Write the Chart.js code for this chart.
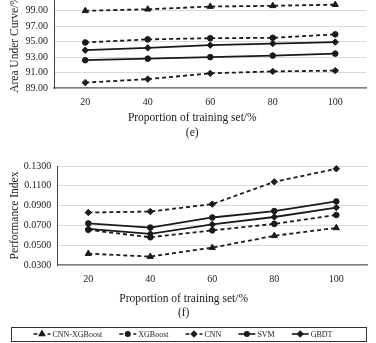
<!DOCTYPE html>
<html><head><meta charset="utf-8">
<script src="https://cdn.jsdelivr.net/npm/chart.js@4/dist/chart.umd.min.js"></script>
<style>
html,body{margin:0;padding:0;background:#fff;}
#wrap{width:376px;height:343px;position:relative;overflow:hidden;}
.c{position:absolute;left:0;width:376px;}
</style></head><body>
<div id="wrap">
<div class="c" style="top:0;height:142px"><canvas id="c1"></canvas></div>
<div class="c" style="top:142px;height:201px"><canvas id="c2"></canvas></div>
</div>
<script>
// ---- data ----
const categories = ['20', '40', '60', '80', '100'];
const seriesNames = ['CNN-XGBoost', 'XGBoost', 'CNN', 'SVM', 'GBDT'];

const aucCnnXgb = [99.00, 99.20, 99.55, 99.65, 99.80];
const aucXgb    = [94.90, 95.30, 95.45, 95.50, 95.95];
const aucCnn    = [89.70, 90.15, 90.90, 91.15, 91.25];
const aucSvm    = [92.60, 92.80, 93.00, 93.20, 93.45];
const aucGbdt   = [93.90, 94.20, 94.55, 94.75, 94.95];

const piCnnXgb = [0.0415, 0.0385, 0.0475, 0.0595, 0.0675];
const piXgb    = [0.0655, 0.0580, 0.0650, 0.0715, 0.0805];
const piCnn    = [0.0830, 0.0840, 0.0915, 0.1140, 0.1272];
const piSvm    = [0.0720, 0.0678, 0.0780, 0.0845, 0.0942];
const piGbdt   = [0.0665, 0.0615, 0.0710, 0.0785, 0.0880];

const aucTicks = [89, 91, 93, 95, 97, 99];
const aucTickLabels = ['89.00', '91.00', '93.00', '95.00', '97.00', '99.00'];
const piTicks = [0.03, 0.05, 0.07, 0.09, 0.11, 0.13];
const piTickLabels = ['0.0300', '0.0500', '0.0700', '0.0900', '0.1100', '0.1300'];

// ---- styles ----
const FONT = "'Liberation Serif', 'Times New Roman', serif";
const INK = '#1a1a1a';
const seriesStyles = [
  {dash: [4, 3], point: 'triangle', r: 3.6},
  {dash: [4, 3], point: 'circle', r: 2.8},
  {dash: [4, 3], point: 'rectRot', r: 3.2},
  {dash: [], point: 'circle', r: 2.8},
  {dash: [], point: 'rectRot', r: 3.2}
];

function makeDatasets(arrs) {
  return arrs.map((d, i) => ({
    label: seriesNames[i],
    data: d,
    borderColor: INK,
    backgroundColor: INK,
    borderWidth: 1.8,
    borderDash: seriesStyles[i].dash,
    pointStyle: seriesStyles[i].point,
    pointRadius: seriesStyles[i].r,
    pointBackgroundColor: INK,
    pointBorderColor: INK,
    pointBorderWidth: 1,
    tension: 0,
    fill: false,
    clip: 6
  }));
}

const boxLegend = {
  id: 'boxLegend',
  afterDraw(chart, args, opts) {
    if (!opts.display) return;
    const ctx = chart.ctx;
    const y0 = chart.height - opts.bottom - opts.boxHeight;
    const cy = y0 + opts.boxHeight / 2;
    ctx.save();
    ctx.strokeStyle = '#333';
    ctx.lineWidth = 1;
    ctx.setLineDash([]);
    ctx.strokeRect(opts.left + 0.5, Math.round(y0) + 0.5, opts.right - opts.left, opts.boxHeight);
    ctx.font = opts.fontSize + 'px ' + FONT;
    ctx.textBaseline = 'middle';
    ctx.fillStyle = '#222';
    const ds = chart.data.datasets;
    const widths = ds.map(d => opts.sample + opts.textGap + ctx.measureText(d.label).width);
    const total = widths.reduce((a, b) => a + b, 0) + opts.gap * (ds.length - 1);
    let x = opts.center - total / 2;
    ds.forEach((d, i) => {
      ctx.strokeStyle = INK;
      ctx.lineWidth = 1.6;
      ctx.setLineDash(d.borderDash || []);
      ctx.beginPath();
      ctx.moveTo(x, cy);
      ctx.lineTo(x + opts.sample, cy);
      ctx.stroke();
      ctx.setLineDash([]);
      const px = x + opts.sample / 2;
      ctx.fillStyle = INK;
      if (Chart.helpers && Chart.helpers.drawPoint) {
        Chart.helpers.drawPoint(ctx, {pointStyle: d.pointStyle, radius: d.pointRadius * 0.8, borderWidth: 1, rotation: 0}, px, cy);
      } else {
        ctx.beginPath(); ctx.arc(px, cy, 2.5, 0, Math.PI * 2); ctx.fill();
      }
      ctx.fillStyle = '#222';
      ctx.fillText(d.label, x + opts.sample + opts.textGap, cy + 0.5);
      x += widths[i] + opts.gap;
    });
    ctx.restore();
  }
};

function makeChart(id, cfg) {
  return new Chart(document.getElementById(id), {
    type: 'line',
    data: {labels: categories, datasets: makeDatasets(cfg.series)},
    plugins: [boxLegend],
    options: {
      responsive: true,
      maintainAspectRatio: false,
      animation: false,
      devicePixelRatio: 1,
      layout: {padding: cfg.padding, autoPadding: false},
      plugins: {
        legend: {display: false},
        tooltip: {enabled: false},
        title: {
          display: true, position: 'bottom', weight: 1,
          text: 'Proportion of training set/%',
          color: INK, font: {family: FONT, size: 11.5, weight: 'normal'},
          padding: cfg.titlePad
        },
        subtitle: {
          display: true, position: 'bottom', weight: 2,
          text: cfg.sub,
          color: INK, font: {family: FONT, size: 11.5, weight: 'normal'},
          padding: cfg.subPad
        },
        boxLegend: cfg.legend
      },
      scales: {
        x: {
          offset: true,
          grid: {display: true, drawOnChartArea: false, drawTicks: false},
          border: {display: true, color: '#7f7f7f', width: 1.5},
          ticks: {color: INK, font: {family: FONT, size: 10}, padding: 8, maxRotation: 0},
          afterFit: s => { s.height = 22; }
        },
        y: {
          min: cfg.min, max: cfg.max,
          grid: {color: '#d9d9d9', lineWidth: 1, drawTicks: false},
          border: {display: true, color: '#404040', width: 1},
          ticks: {
            color: INK, font: {family: FONT, size: 10}, padding: 6,
            callback: (v, i) => cfg.tickLabels[i]
          },
          afterBuildTicks: s => { s.ticks = cfg.ticks.map(v => ({value: v})); },
          afterFit: s => { s.width = cfg.yWidth; s.paddingTop = 0; },
          title: {
            display: true, text: cfg.yTitle, color: INK,
            font: {family: FONT, size: 11.5, weight: 'normal'},
            padding: {top: cfg.yTitlePad, bottom: 0}
          }
        }
      }
    }
  });
}

makeChart('c1', {
  series: [aucCnnXgb, aucXgb, aucCnn, aucSvm, aucGbdt],
  min: 89, max: 100.4, ticks: aucTicks, tickLabels: aucTickLabels,
  yTitle: 'Area Under Curve/%', yWidth: 36, yTitlePad: -10, sub: '(e)',
  padding: {top: 0, right: 9.5, left: 18, bottom: 0.4},
  titlePad: {top: 1, bottom: 1}, subPad: {top: 0, bottom: 2},
  legend: {display: false}
});

makeChart('c2', {
  series: [piCnnXgb, piXgb, piCnn, piSvm, piGbdt],
  min: 0.03, max: 0.13, ticks: piTicks, tickLabels: piTickLabels,
  yTitle: 'Performance Index', yWidth: 57.3, yTitlePad: 8, sub: '(f)',
  padding: {top: 24, right: 8.7, left: 0, bottom: 23.4},
  titlePad: {top: 5, bottom: 0}, subPad: {top: 0, bottom: 0},
  legend: {display: true, left: 11, right: 366, bottom: 2, boxHeight: 14,
           center: 183, gap: 17, sample: 17, textGap: 2, fontSize: 8}
});
</script>
</body></html>
